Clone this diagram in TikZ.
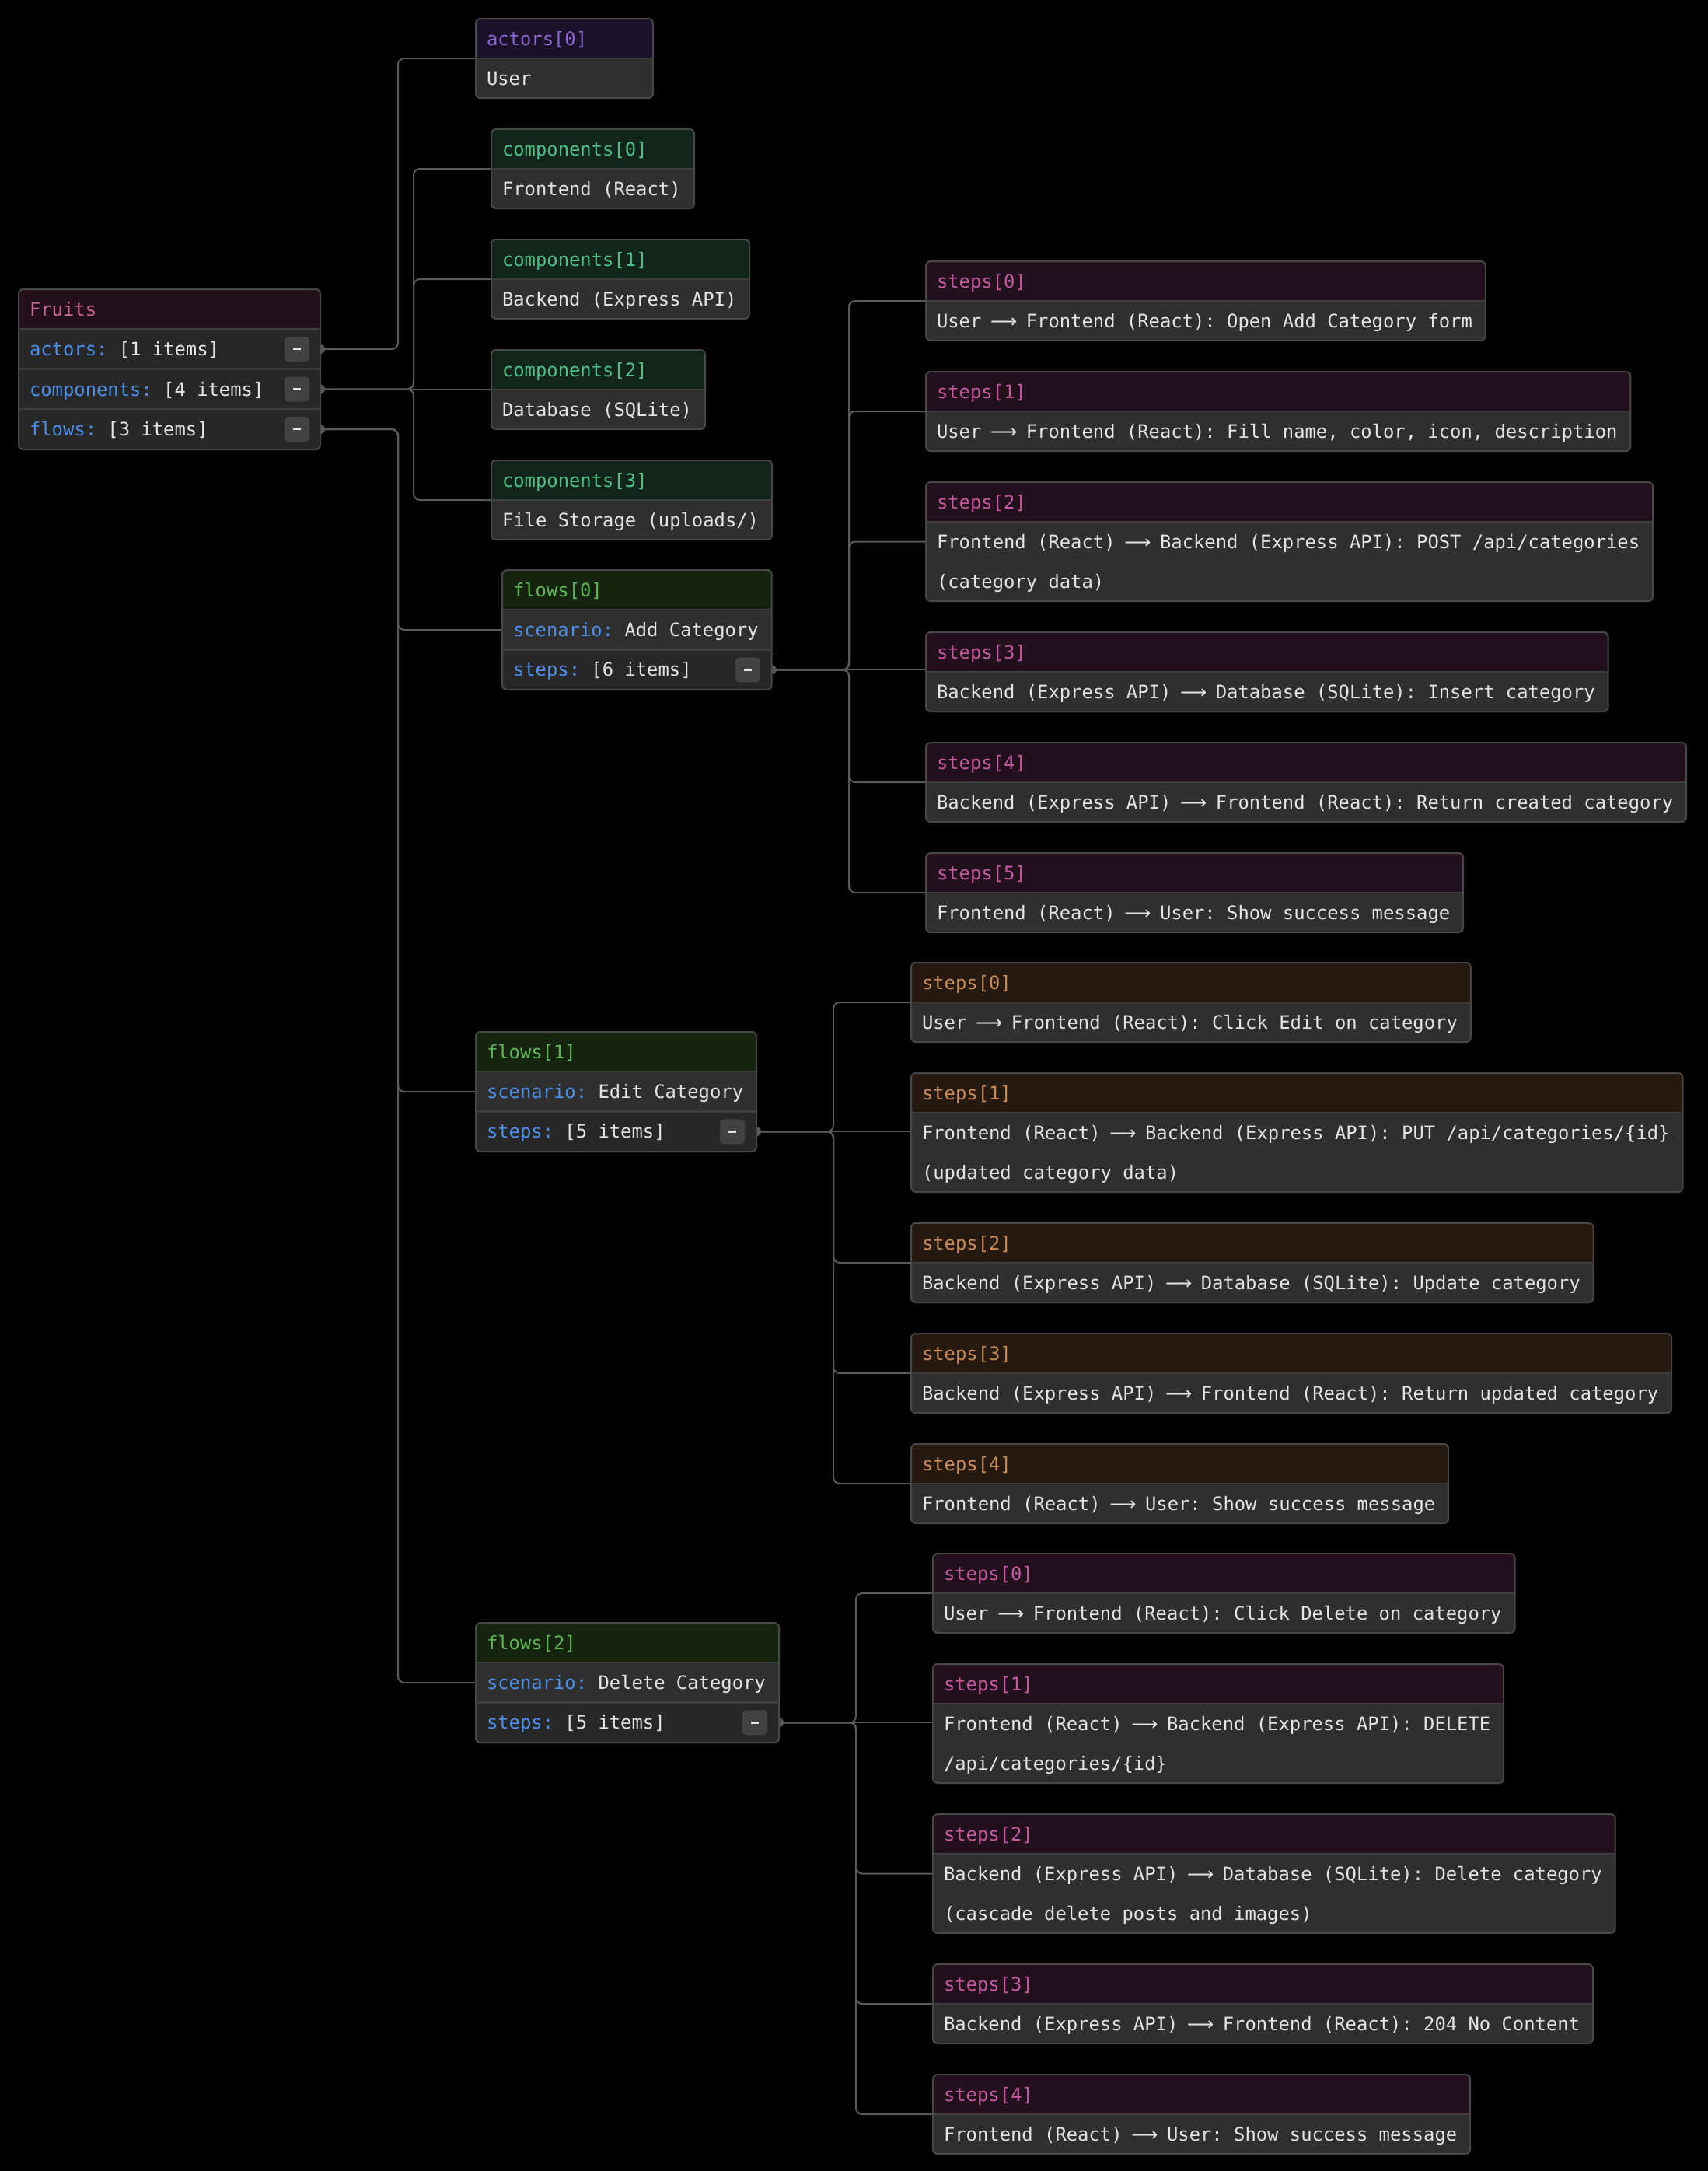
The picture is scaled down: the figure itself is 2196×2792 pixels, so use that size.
\documentclass[tikz,border=0pt]{standalone}
\usepackage{fontspec}
\setmonofont{DejaVu Sans Mono}
\newfontfamily\arrowfont{DejaVu Sans}

\definecolor{bodyc}{HTML}{2F2F2F}
\definecolor{darkrowc}{HTML}{272727}
\definecolor{borderc}{HTML}{474747}
\definecolor{sepc}{HTML}{3E3E3E}
\definecolor{linec}{HTML}{5A5A5A}
\definecolor{btnc}{HTML}{424242}
\definecolor{valc}{HTML}{E4E4E4}
\definecolor{keyblue}{HTML}{4E8FEA}
\definecolor{hdrpink}{HTML}{24101A}   \definecolor{ttlpink}{HTML}{CA6A98}
\definecolor{hdrpurple}{HTML}{1A1229} \definecolor{ttlpurple}{HTML}{8E63D2}
\definecolor{hdrgreen}{HTML}{11251B}  \definecolor{ttlgreen}{HTML}{4FC187}
\definecolor{hdrflow}{HTML}{14240F}   \definecolor{ttlflow}{HTML}{60B656}
\definecolor{hdrmag}{HTML}{23101D}    \definecolor{ttlmag}{HTML}{C459A0}
\definecolor{hdrorg}{HTML}{261A10}    \definecolor{ttlorg}{HTML}{C98B57}

\pgfdeclarelayer{canvaslayer}
\pgfdeclarelayer{wirelayer}
\pgfsetlayers{canvaslayer,wirelayer,main}

\tikzset{
  txt/.style={font=\ttfamily\fontsize{23.84pt}{28pt}\selectfont, text=valc, inner sep=0pt, outer sep=0pt},
  cardframe/.style={rectangle, draw=borderc, line width=2pt, rounded corners=6pt, inner sep=0pt, outer sep=0pt},
  sepline/.style={draw=sepc, line width=2.5pt},
  conn/.style={draw=linec, line width=2pt, rounded corners=8pt},
  btn/.style={rectangle, fill=btnc, rounded corners=5pt, minimum width=32pt, minimum height=32pt, inner sep=0pt, outer sep=0pt},
  btnbar/.style={draw=valc, line width=2.6pt},
  portdot/.style={fill=linec},
}

% key of a key/value row
\newcommand\kw[1]{\textcolor{keyblue}{#1}}
% arrow between the two parties of a step
\newcommand\ra{\makebox[28.7pt][c]{\arrowfont ⟶}}

% card: #1 name, #2 left, #3 top, #4 width, #5 height,
%       #6 header fill, #7 title colour, #8 title, #9 top of the darker rows
\newcommand\jcard[9]{%
  \pgfmathsetmacro\jR{#2+#4}%
  \pgfmathsetmacro\jB{#3+#5}%
  \pgfmathsetmacro\jH{#3+51}%
  \pgfmathsetmacro\jTx{#2+14}%
  \pgfmathsetmacro\jTy{#3+34}%
  \begin{scope}
    \clip[rounded corners=6pt] (#2,#3) rectangle (\jR,\jB);
    \fill[bodyc] (#2,#3) rectangle (\jR,\jB);
    \fill[darkrowc] (#2,#9) rectangle (\jR,\jB);
    \fill[#6] (#2,#3) rectangle (\jR,\jH);
  \end{scope}
  \draw[sepline] (#2,\jH) -- (\jR,\jH);
  \node[cardframe, minimum width=#4pt, minimum height=#5pt, anchor=north west] (#1) at (#2,#3) {};
  \node[txt, text=#7, anchor=base west] (#1-title) at (\jTx,\jTy) {#8};
}
% text line: #1 name, #2 x, #3 baseline, #4 text
\newcommand\jtext[4]{\node[txt, anchor=base west] (#1) at (#2,#3) {#4};}
% collapse button: #1 name, #2 x, #3 y
\newcommand\jbtn[3]{%
  \node[btn] (#1) at (#2,#3) {};
  \draw[btnbar] ([xshift=-5pt]#1.center) -- ([xshift=5pt]#1.center);}

\begin{document}
\begin{tikzpicture}[x=1pt, y=-1pt]
\useasboundingbox (0,0) rectangle (2196,2792);
\begin{pgfonlayer}{canvaslayer}
  \fill[black] (-6,-6) rectangle (2202,2798);
\end{pgfonlayer}

% ---------- outgoing ports ----------
\coordinate (pA)  at (412,449);
\coordinate (pC)  at (412,500.5);
\coordinate (pF)  at (412,552);
\coordinate (pF0) at (992.7,861.25);
\coordinate (pF1) at (973,1455.25);
\coordinate (pF2) at (1002,2215.25);

% ---------- root ----------
\jcard{fruits}{24}{372}{388}{206}{hdrpink}{ttlpink}{Fruits}{423}
\draw[sepline] (24,474.5) -- (412,474.5);
\draw[sepline] (24,526) -- (412,526);
\jtext{fruits-actors}{38}{457.5}{\kw{actors:} [1 items]}
\jtext{fruits-components}{38}{509}{\kw{components:} [4 items]}
\jtext{fruits-flows}{38}{560.5}{\kw{flows:} [3 items]}
\jbtn{fruits-b1}{382}{449}
\jbtn{fruits-b2}{382}{500.5}
\jbtn{fruits-b3}{382}{552}

% ---------- actors / components ----------
\jcard{act0}{612}{24}{228}{102}{hdrpurple}{ttlpurple}{actors[0]}{126}
\jtext{act0-v}{626}{109}{User}
\jcard{comp0}{632}{166}{261}{102}{hdrgreen}{ttlgreen}{components[0]}{268}
\jtext{comp0-v}{646}{251}{Frontend (React)}
\jcard{comp1}{632}{308}{332}{102}{hdrgreen}{ttlgreen}{components[1]}{410}
\jtext{comp1-v}{646}{393}{Backend (Express API)}
\jcard{comp2}{632}{450}{275}{102}{hdrgreen}{ttlgreen}{components[2]}{552}
\jtext{comp2-v}{646}{535}{Database (SQLite)}
\jcard{comp3}{632}{592}{361}{102}{hdrgreen}{ttlgreen}{components[3]}{694}
\jtext{comp3-v}{646}{677}{File Storage (uploads/)}

% ---------- flows ----------
\jcard{flow0}{646}{733}{346.7}{154}{hdrflow}{ttlflow}{flows[0]}{835.5}
\draw[sepline] (646,835.5) -- (992.7,835.5);
\jtext{flow0-sc}{660}{818.25}{\kw{scenario:} Add Category}
\jtext{flow0-st}{660}{869.75}{\kw{steps:} [6 items]}
\jbtn{flow0-b}{961.7}{861.25}

\jcard{flow1}{612}{1327}{361}{154}{hdrflow}{ttlflow}{flows[1]}{1429.5}
\draw[sepline] (612,1429.5) -- (973,1429.5);
\jtext{flow1-sc}{626}{1412.25}{\kw{scenario:} Edit Category}
\jtext{flow1-st}{626}{1463.75}{\kw{steps:} [5 items]}
\jbtn{flow1-b}{942}{1455.25}

\jcard{flow2}{612}{2087}{390}{154}{hdrflow}{ttlflow}{flows[2]}{2189.5}
\draw[sepline] (612,2189.5) -- (1002,2189.5);
\jtext{flow2-sc}{626}{2172.25}{\kw{scenario:} Delete Category}
\jtext{flow2-st}{626}{2223.75}{\kw{steps:} [5 items]}
\jbtn{flow2-b}{971}{2215.25}

% ---------- steps of flows[0] ----------
\jcard{f0s0}{1191}{336}{719.8}{102}{hdrmag}{ttlmag}{steps[0]}{438}
\jtext{f0s0-v}{1205}{421}{User \ra{} Frontend (React): Open Add Category form}
\jcard{f0s1}{1191}{478}{906.4}{102}{hdrmag}{ttlmag}{steps[1]}{580}
\jtext{f0s1-v}{1205}{563}{User \ra{} Frontend (React): Fill name, color, icon, description}
\jcard{f0s2}{1191}{620}{935}{153}{hdrmag}{ttlmag}{steps[2]}{773}
\jtext{f0s2-v}{1205}{705.5}{Frontend (React) \ra{} Backend (Express API): POST /api/categories}
\jtext{f0s2-w}{1205}{756}{(category data)}
\jcard{f0s3}{1191}{813}{877.7}{102}{hdrmag}{ttlmag}{steps[3]}{915}
\jtext{f0s3-v}{1205}{898}{Backend (Express API) \ra{} Database (SQLite): Insert category}
\jcard{f0s4}{1191}{955}{978.1}{102}{hdrmag}{ttlmag}{steps[4]}{1057}
\jtext{f0s4-v}{1205}{1040}{Backend (Express API) \ra{} Frontend (React): Return created category}
\jcard{f0s5}{1191}{1097}{691.1}{102}{hdrmag}{ttlmag}{steps[5]}{1199}
\jtext{f0s5-v}{1205}{1182}{Frontend (React) \ra{} User: Show success message}

% ---------- steps of flows[1] ----------
\jcard{f1s0}{1172}{1238}{719.8}{102}{hdrorg}{ttlorg}{steps[0]}{1340}
\jtext{f1s0-v}{1186}{1323}{User \ra{} Frontend (React): Click Edit on category}
\jcard{f1s1}{1172}{1380}{992.5}{153}{hdrorg}{ttlorg}{steps[1]}{1533}
\jtext{f1s1-v}{1186}{1465.5}{Frontend (React) \ra{} Backend (Express API): PUT /api/categories/\{id\}}
\jtext{f1s1-w}{1186}{1516}{(updated category data)}
\jcard{f1s2}{1172}{1573}{877.7}{102}{hdrorg}{ttlorg}{steps[2]}{1675}
\jtext{f1s2-v}{1186}{1658}{Backend (Express API) \ra{} Database (SQLite): Update category}
\jcard{f1s3}{1172}{1715}{978.1}{102}{hdrorg}{ttlorg}{steps[3]}{1817}
\jtext{f1s3-v}{1186}{1800}{Backend (Express API) \ra{} Frontend (React): Return updated category}
\jcard{f1s4}{1172}{1857}{691.1}{102}{hdrorg}{ttlorg}{steps[4]}{1959}
\jtext{f1s4-v}{1186}{1942}{Frontend (React) \ra{} User: Show success message}

% ---------- steps of flows[2] ----------
\jcard{f2s0}{1200}{1998}{748.5}{102}{hdrmag}{ttlmag}{steps[0]}{2100}
\jtext{f2s0-v}{1214}{2083}{User \ra{} Frontend (React): Click Delete on category}
\jcard{f2s1}{1200}{2140}{734.2}{153}{hdrmag}{ttlmag}{steps[1]}{2293}
\jtext{f2s1-v}{1214}{2225.5}{Frontend (React) \ra{} Backend (Express API): DELETE}
\jtext{f2s1-w}{1214}{2276}{/api/categories/\{id\}}
\jcard{f2s2}{1200}{2333}{877.7}{153}{hdrmag}{ttlmag}{steps[2]}{2486}
\jtext{f2s2-v}{1214}{2418.5}{Backend (Express API) \ra{} Database (SQLite): Delete category}
\jtext{f2s2-w}{1214}{2469}{(cascade delete posts and images)}
\jcard{f2s3}{1200}{2526}{849}{102}{hdrmag}{ttlmag}{steps[3]}{2628}
\jtext{f2s3-v}{1214}{2611}{Backend (Express API) \ra{} Frontend (React): 204 No Content}
\jcard{f2s4}{1200}{2668}{691.1}{102}{hdrmag}{ttlmag}{steps[4]}{2770}
\jtext{f2s4-v}{1214}{2753}{Frontend (React) \ra{} User: Show success message}

% ---------- connectors, drawn behind the cards ----------
\begin{pgfonlayer}{wirelayer}
  \foreach \p in {pA,pC,pF,pF0,pF1,pF2} \fill[portdot] (\p) circle (6pt);

  \draw[conn] (pA) -- ++(100,0) |- (act0.west);

  \foreach \c in {comp0,comp1,comp3}
    \draw[conn] (pC) -- ++(120,0) |- (\c.west);
  \draw[conn] (pC) -- (pC -| comp2.west);

  \foreach \c in {flow0,flow1,flow2}
    \draw[conn] (pF) -- ++(100,0) |- (\c.west);

  \foreach \c in {f0s0,f0s1,f0s2,f0s4,f0s5}
    \draw[conn] (pF0) -- ++(99.3,0) |- (\c.west);
  \draw[conn] (pF0) -- (pF0 -| f0s3.west);

  \foreach \c in {f1s0,f1s2,f1s3,f1s4}
    \draw[conn] (pF1) -- ++(99,0) |- (\c.west);
  \draw[conn] (pF1) -- (pF1 -| f1s1.west);

  \foreach \c in {f2s0,f2s2,f2s3,f2s4}
    \draw[conn] (pF2) -- ++(99,0) |- (\c.west);
  \draw[conn] (pF2) -- (pF2 -| f2s1.west);
\end{pgfonlayer}
\end{tikzpicture}
\end{document}
